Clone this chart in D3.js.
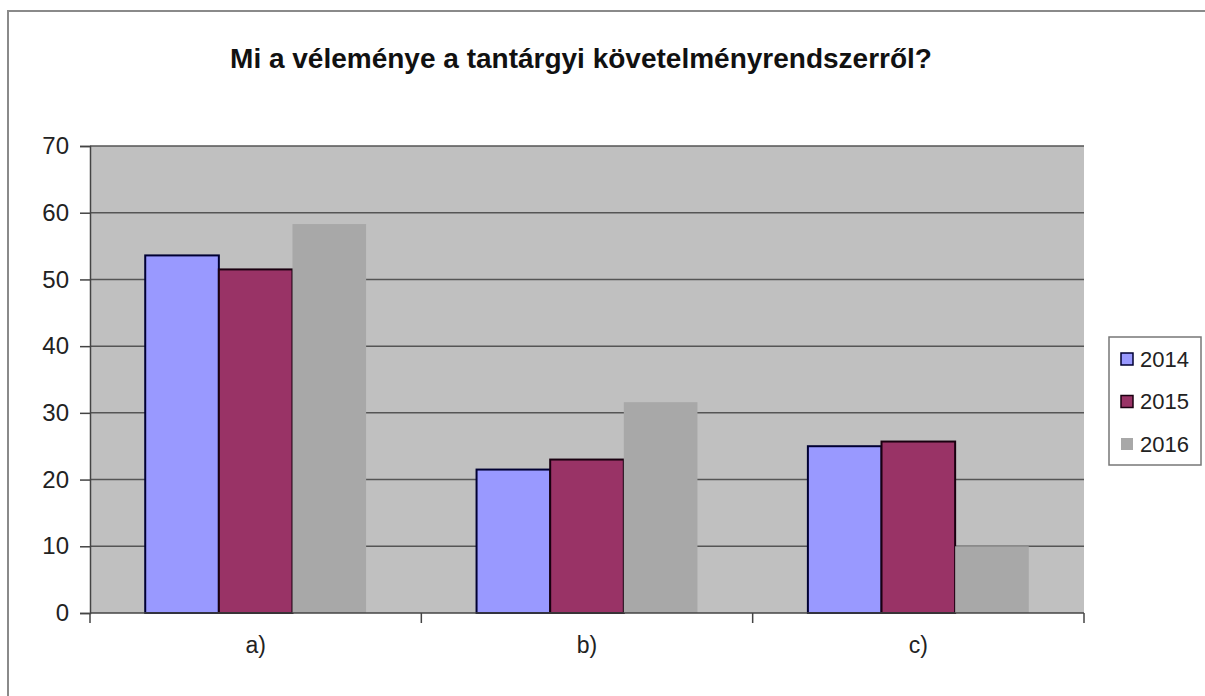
<!DOCTYPE html>
<html>
<head>
<meta charset="utf-8">
<script src="https://cdn.jsdelivr.net/npm/d3@7"></script>
<style>
  body { margin: 0; background: #fff; }
  svg { display: block; }
</style>
</head>
<body>
<div id="chart"></div>
<script>
// -------------------- DATA --------------------
const categories = ["a)", "b)", "c)"];
const years = ["2014", "2015", "2016"];
const values2014 = [53.6, 21.5, 25.0];
const values2015 = [51.5, 23.0, 25.7];
const values2016 = [58.3, 31.6, 10.0];
const yTicks = [0, 10, 20, 30, 40, 50, 60, 70];
const titleText = "Mi a véleménye a tantárgyi követelményrendszerről?";

const seriesValues = [values2014, values2015, values2016];
const colors = ["#9999ff", "#993366", "#a8a8a8"];
const strokes = ["#000033", "#1a0010", "none"];

// -------------------- VISUALIZATION --------------------
const width = 1205, height = 696;
const margin = { top: 146, right: 121, bottom: 83, left: 90 };
const fontFamily = "Arial, 'Liberation Sans', sans-serif";

const svg = d3.select("#chart")
    .append("svg")
    .attr("width", width)
    .attr("height", height);

// outer chart frame (runs off the right and bottom)
svg.append("rect")
    .attr("x", 8).attr("y", 11)
    .attr("width", 1220).attr("height", 720)
    .attr("fill", "#fff")
    .attr("stroke", "#8a8a8a")
    .attr("stroke-width", 2);

svg.append("text")
    .attr("x", 581).attr("y", 68)
    .attr("text-anchor", "middle")
    .attr("font-family", fontFamily)
    .attr("font-size", 28)
    .attr("font-weight", "bold")
    .attr("fill", "#111")
    .text(titleText);

let x = d3.scaleBand()
    .domain(categories)
    .range([margin.left, width - margin.right]);

// excel-like gap width 150%: 3 bars + 1.5 bars gap per band
let barW = x.bandwidth() / 4.5;
let xs = d3.scaleBand()
    .domain(years)
    .range([barW * 0.75, barW * 3.75]);

let y = d3.scaleLinear()
    .domain([0, 70])
    .range([height - margin.bottom, margin.top]);

// plot background
svg.append("rect")
    .attr("x", margin.left)
    .attr("y", y(70))
    .attr("width", width - margin.right - margin.left)
    .attr("height", y(0) - y(70))
    .attr("fill", "#c0c0c0");

// gridlines
svg.append("g")
    .selectAll("line")
    .data(yTicks.filter(d => d > 0))
    .join("line")
    .attr("x1", margin.left)
    .attr("x2", width - margin.right)
    .attr("y1", d => y(d))
    .attr("y2", d => y(d))
    .attr("stroke", "#555")
    .attr("stroke-width", 1.5);

// bars
const rows = [];
categories.forEach((c, i) => {
    years.forEach((yr, j) => {
        rows.push({ cat: c, year: yr, value: seriesValues[j][i], j: j });
    });
});

svg.append("g")
    .selectAll("rect")
    .data(rows)
    .join("rect")
    .attr("x", d => x(d.cat) + xs(d.year))
    .attr("y", d => y(d.value))
    .attr("width", xs.bandwidth())
    .attr("height", d => y(0) - y(d.value))
    .attr("fill", d => colors[d.j])
    .attr("stroke", d => strokes[d.j])
    .attr("stroke-width", 2);

// y axis
let yAxis = g => g
    .attr("transform", `translate(${margin.left},0)`)
    .call(d3.axisLeft(y).tickValues(yTicks).tickSize(10).tickPadding(11))
    .call(g => g.selectAll("path, line").attr("stroke", "#444").attr("stroke-width", 1.5))
    .call(g => g.selectAll("text")
        .attr("font-family", fontFamily)
        .attr("font-size", 24)
        .attr("fill", "#222"));

svg.append("g").call(yAxis);

// x axis: ticks sit between categories
let xAxis = g => g
    .attr("transform", `translate(0,${y(0)})`)
    .call(g => g.append("line")
        .attr("x1", margin.left).attr("x2", width - margin.right)
        .attr("stroke", "#444").attr("stroke-width", 1.5))
    .call(g => g.selectAll(".tick")
        .data(categories.concat([null]))
        .join("line")
        .attr("class", "tick")
        .attr("x1", (d, i) => margin.left + i * x.step())
        .attr("x2", (d, i) => margin.left + i * x.step())
        .attr("y1", 0).attr("y2", 10)
        .attr("stroke", "#444").attr("stroke-width", 1.5))
    .call(g => g.selectAll("text")
        .data(categories)
        .join("text")
        .attr("x", d => x(d) + x.bandwidth() / 2)
        .attr("y", 40)
        .attr("text-anchor", "middle")
        .attr("font-family", fontFamily)
        .attr("font-size", 23)
        .attr("fill", "#222")
        .text(d => d));

svg.append("g").call(xAxis);

// legend
const legend = svg.append("g").attr("transform", "translate(1109,337)");
legend.append("rect")
    .attr("width", 92).attr("height", 128)
    .attr("fill", "#fff")
    .attr("stroke", "#777")
    .attr("stroke-width", 1.5);

const items = legend.selectAll("g")
    .data(years)
    .join("g")
    .attr("transform", (d, i) => `translate(12,${22 + i * 42.5})`);

items.append("rect")
    .attr("x", 0).attr("y", -6)
    .attr("width", 12).attr("height", 12)
    .attr("fill", (d, i) => colors[i])
    .attr("stroke", (d, i) => strokes[i])
    .attr("stroke-width", 1.5);

items.append("text")
    .attr("x", 19).attr("y", 0)
    .attr("dy", "0.35em")
    .attr("font-family", fontFamily)
    .attr("font-size", 22)
    .attr("fill", "#222")
    .text(d => d);
</script>
</body>
</html>
